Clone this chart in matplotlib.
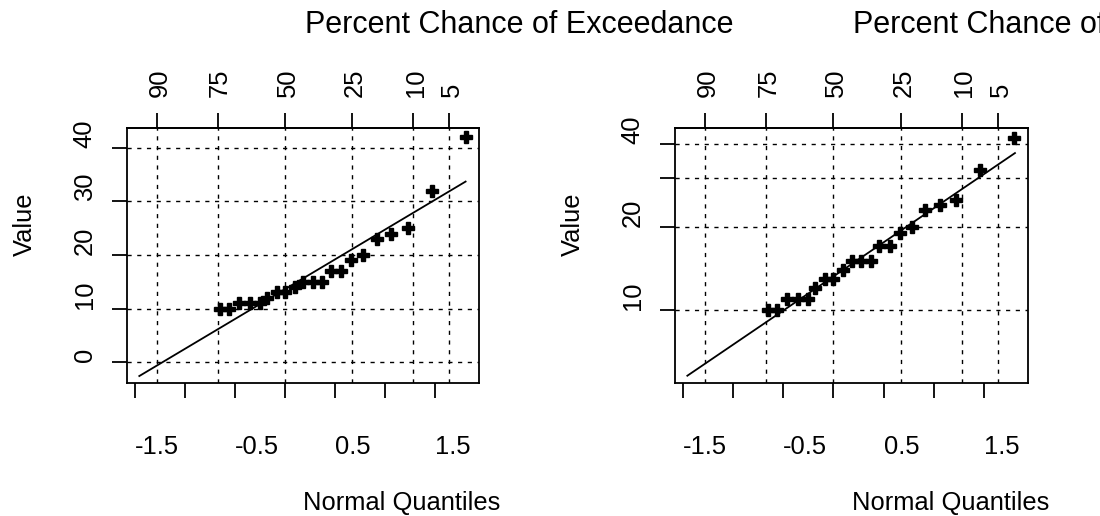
"""Two normal-probability panels (linear and log value axis) with exceedance ticks on top."""

import matplotlib

matplotlib.use("Agg")
import matplotlib.pyplot as plt
from matplotlib.ticker import NullLocator

plt.rcParams["font.family"] = ["Liberation Sans", "DejaVu Sans"]

# top axis: percent chance of exceedance and matching normal quantiles
exceed_pct = ["90", "75", "50", "25", "10", "5"]
exceed_z = [-1.2816, -0.6745, 0.0, 0.6745, 1.2816, 1.6449]

# bottom axis
quantile_ticks = [-1.5, -1.0, -0.5, 0.0, 0.5, 1.0, 1.5]
quantile_labels = ["-1.5", "", "-0.5", "", "0.5", "", "1.5"]

# observations (plotting position, value)
obs_z = [-0.655, -0.56, -0.46, -0.355, -0.255, -0.18, -0.08, 0.0, 0.095, 0.18, 0.275,
         0.37, 0.455, 0.56, 0.66, 0.78, 0.915, 1.06, 1.225, 1.465, 1.805]
obs_value = [10, 10, 11, 11, 11, 12, 13, 13, 14, 15, 15, 15, 17, 17, 19, 20, 23, 24,
             25, 32, 42]

# fitted lines (end points)
normal_fit_z = [-1.457, 1.806]
normal_fit_value = [-2.6, 33.7]
lognormal_fit_z = [-1.457, 1.81]
lognormal_fit_value = [5.78, 37.0]

# value axes
linear_yticks = [0, 10, 20, 30, 40]
linear_ylabels = ["0", "10", "20", "30", "40"]
log_yticks = [10, 20, 30, 40]
log_ylabels = ["10", "20", "", "40"]

BASE = 18.4
TITLE = 22
GRID = dict(color="black", lw=1.0, ls=(0, (3, 4)), zorder=1)


def draw_panel(ax, fit_z, fit_v, yticks, ylabels, ylim, log=False):
    if log:
        ax.set_yscale("log")
    ax.set_xlim(-1.58, 1.94)
    ax.set_ylim(*ylim)

    for z in exceed_z:
        ax.axvline(z, **GRID)
    for v in yticks:
        ax.axhline(v, **GRID)

    ax.plot(fit_z, fit_v, color="black", lw=1.3, zorder=2)
    ax.plot(obs_z, obs_value, ls="none", marker="P", ms=9, color="black", zorder=3)

    for s in ax.spines.values():
        s.set_linewidth(1.3)

    # bottom: normal quantiles (labels start at the tick, as in the original device)
    ax.set_xticks(quantile_ticks, labels=quantile_labels)
    ax.tick_params(axis="x", length=11, width=1.3, pad=40, labelsize=BASE)
    plt.setp(ax.get_xticklabels(), ha="left", va="baseline")

    # left: values, rotated
    ax.yaxis.set_minor_locator(NullLocator())
    ax.set_yticks(yticks, labels=ylabels)
    ax.yaxis.set_minor_locator(NullLocator())
    ax.tick_params(axis="y", length=11, width=1.3, pad=14.4, labelsize=BASE)
    plt.setp(ax.get_yticklabels(), rotation=90, rotation_mode="anchor",
             ha="left", va="baseline")

    # top: percent chance of exceedance
    sec = ax.secondary_xaxis("top")
    sec.set_xticks(exceed_z, labels=exceed_pct)
    sec.tick_params(length=11, width=1.3, pad=11.5, labelsize=BASE)
    sec.spines["top"].set_linewidth(1.3)
    plt.setp(sec.get_xticklabels(), rotation=90, rotation_mode="anchor",
             ha="left", va="center_baseline")

    ax.set_xlabel("Normal Quantiles", fontsize=BASE, ha="left", va="baseline")
    ax.xaxis.set_label_coords(0.5, -0.498)
    ax.set_ylabel("Value", fontsize=BASE, rotation=90, rotation_mode="anchor",
                  ha="left", va="baseline")
    ax.yaxis.set_label_coords(-0.27, 0.5)
    ax.text(0.505, 1.373, "Percent Chance of Exceedance", transform=ax.transAxes,
            fontsize=TITLE, ha="left", va="baseline")


fig = plt.figure(figsize=(11, 5.16), dpi=100)
ax_lin = fig.add_axes([127 / 1100, 133 / 516, 352 / 1100, 255 / 516])
ax_log = fig.add_axes([675 / 1100, 133 / 516, 353 / 1100, 255 / 516])

draw_panel(ax_lin, normal_fit_z, normal_fit_value, linear_yticks, linear_ylabels,
           (-3.9, 43.7))
draw_panel(ax_log, lognormal_fit_z, lognormal_fit_value, log_yticks, log_ylabels,
           (5.44, 45.6), log=True)

fig.savefig("out.png", dpi=100)
